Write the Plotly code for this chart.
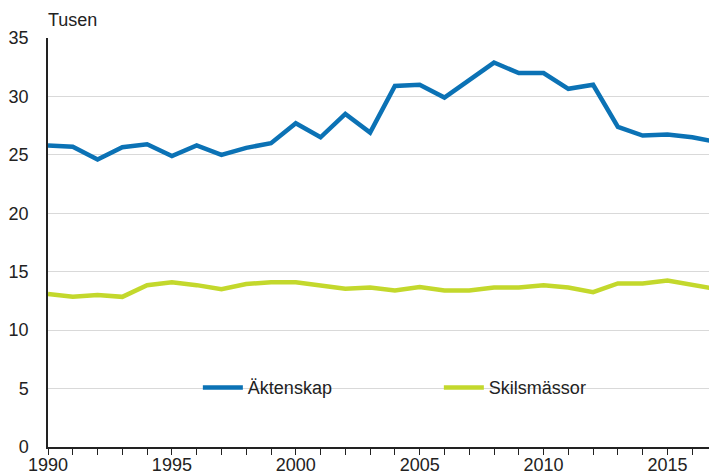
import plotly.graph_objects as go

years = list(range(1990, 2018))
aktenskap = [25.8, 25.7, 24.6, 25.65, 25.9, 24.9, 25.8, 25.0, 25.6, 26.0,
             27.7, 26.5, 28.5, 26.9, 30.9, 31.0, 29.9, 31.45, 32.9, 32.0,
             32.0, 30.65, 31.0, 27.4, 26.65, 26.75, 26.5, 26.1]
skilsmassor = [13.1, 12.85, 13.0, 12.85, 13.85, 14.1, 13.85, 13.5, 13.95, 14.1,
               14.1, 13.85, 13.55, 13.65, 13.4, 13.7, 13.4, 13.4, 13.65, 13.65,
               13.85, 13.65, 13.25, 14.0, 14.0, 14.25, 13.85, 13.5]
series_names = ["Äktenskap", "Skilsmässor"]
colors = ["#0b72b5", "#c3d82c"]

fig = go.Figure()
for name, vals, c in zip(series_names, [aktenskap, skilsmassor], colors):
    fig.add_trace(go.Scatter(x=years, y=vals, mode="lines", name=name,
                             line=dict(color=c, width=4.5)))

font = dict(family="Liberation Sans, Arial, sans-serif", size=18, color="#222222")
# page body has an 8px margin, so the figure is sized to fit the window
fig.update_layout(
    width=709, height=466,
    margin=dict(l=40, r=0, t=30, b=27, autoexpand=False),
    plot_bgcolor="white", paper_bgcolor="white",
    font=font,
    showlegend=True,
    legend=dict(orientation="h", x=0.224, y=0.145, xanchor="left", yanchor="middle",
                bgcolor="rgba(0,0,0,0)", font=font,
                entrywidth=186, entrywidthmode="pixels", itemwidth=40),
    xaxis=dict(range=[1990, 2017], dtick=5, tick0=1990, showgrid=False,
               showline=True, linecolor="#222222", linewidth=1.5,
               ticks="outside", ticklen=6, tickcolor="#222222",
               minor=dict(dtick=1, ticks="outside", ticklen=6, tickcolor="#222222"),
               tickfont=font, zeroline=False, automargin=False,
               ticklabelstandoff=-5),
    yaxis=dict(range=[0, 35], dtick=5, showgrid=True, gridcolor="#d9d9d9", gridwidth=1,
               showline=True, linecolor="#222222", linewidth=1.5,
               ticks="", tickfont=font, zeroline=False, ticklabelstandoff=14,
               automargin=False),
    annotations=[dict(text="Tusen", xref="paper", yref="paper", x=0, y=1.0,
                      yshift=6, xshift=-2, xanchor="left", yanchor="bottom",
                      showarrow=False, font=font)],
)

fig.write_html("out.html")
